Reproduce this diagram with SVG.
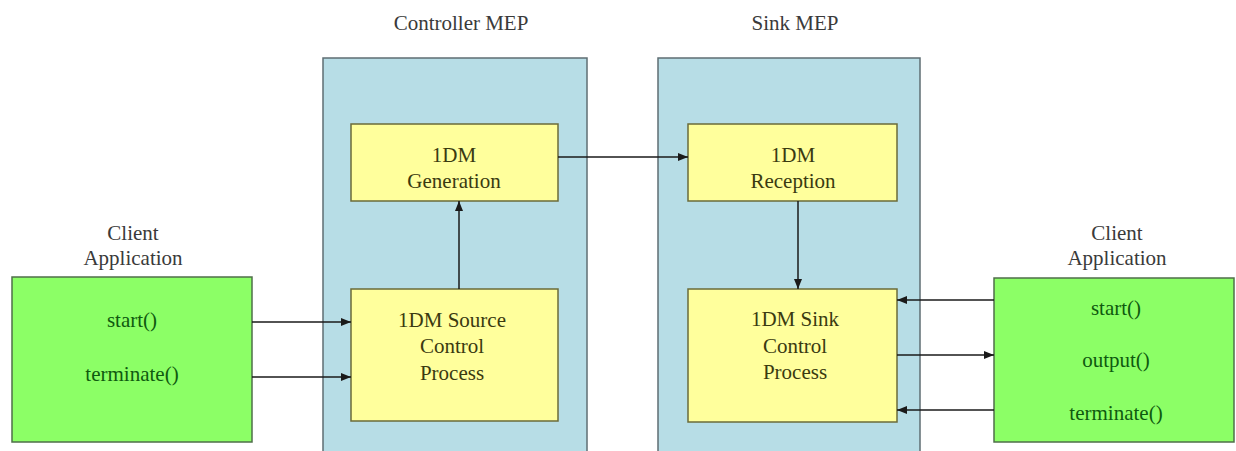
<svg xmlns="http://www.w3.org/2000/svg" width="1236" height="451" viewBox="0 0 1236 451">
<style>
text{font-family:'Liberation Serif','DejaVu Serif',serif;font-size:21px;text-anchor:middle}
.title{fill:#3a3a3a}
.cont{fill:#b7dde6;stroke:#5f6e73;stroke-width:1.5}
.proc{fill:#ffff9c;stroke:#6b6b3a;stroke-width:1.5}
.proc-t{fill:#3a3a10}
.client{fill:#8cff66;stroke:#4f6f4a;stroke-width:1.5}
.client-t{fill:#0f5a0f}
.conn{stroke:#1a1a1a;stroke-width:1.5;fill:none;marker-end:url(#ah)}
</style>
<defs>
<marker id="ah" markerUnits="userSpaceOnUse" markerWidth="10" markerHeight="10" viewBox="0 0 10 10" refX="10" refY="5" orient="auto">
<path d="M0,1 L10,5 L0,9 Z" fill="#1a1a1a"/>
</marker>
</defs>
<rect width="1236" height="451" fill="#ffffff"/>
<g font-family="Liberation Serif, DejaVu Serif, serif">
<g id="controller-mep">
<rect class="cont" x="323" y="58" width="264" height="410"/>
<text class="title" x="461" y="30">Controller MEP</text>
</g>
<g id="sink-mep">
<rect class="cont" x="658" y="58" width="262" height="410"/>
<text class="title" x="795" y="30">Sink MEP</text>
</g>
<g id="generation">
<rect class="proc" x="351" y="124" width="207" height="77"/>
<text class="proc-t" x="454" y="162">1DM</text>
<text class="proc-t" x="454" y="188">Generation</text>
</g>
<g id="source-control">
<rect class="proc" x="351" y="289" width="207" height="132"/>
<text class="proc-t" x="452" y="327">1DM Source</text>
<text class="proc-t" x="452" y="353">Control</text>
<text class="proc-t" x="452" y="380">Process</text>
</g>
<g id="reception">
<rect class="proc" x="688" y="124" width="209" height="77"/>
<text class="proc-t" x="793" y="162">1DM</text>
<text class="proc-t" x="793" y="188">Reception</text>
</g>
<g id="sink-control">
<rect class="proc" x="688" y="289" width="209" height="133"/>
<text class="proc-t" x="795" y="326">1DM Sink</text>
<text class="proc-t" x="795" y="353">Control</text>
<text class="proc-t" x="795" y="379">Process</text>
</g>
<g id="client-left">
<text class="title" x="133" y="240">Client</text>
<text class="title" x="133" y="265">Application</text>
<rect class="client" x="12" y="277" width="240" height="165"/>
<text class="client-t" x="132" y="327">start()</text>
<text class="client-t" x="132" y="381">terminate()</text>
</g>
<g id="client-right">
<text class="title" x="1117" y="240">Client</text>
<text class="title" x="1117" y="265">Application</text>
<rect class="client" x="994" y="278" width="240" height="164"/>
<text class="client-t" x="1116" y="315">start()</text>
<text class="client-t" x="1116" y="367">output()</text>
<text class="client-t" x="1116" y="420">terminate()</text>
</g>
</g>
<g id="connectors">
<line class="conn" x1="252" y1="322" x2="351" y2="322"/>
<line class="conn" x1="252" y1="377" x2="351" y2="377"/>
<line class="conn" x1="459" y1="289" x2="459" y2="201"/>
<line class="conn" x1="558" y1="157" x2="688" y2="157"/>
<line class="conn" x1="798" y1="201" x2="798" y2="289"/>
<line class="conn" x1="994" y1="300" x2="897" y2="300"/>
<line class="conn" x1="897" y1="355" x2="994" y2="355"/>
<line class="conn" x1="994" y1="410" x2="897" y2="410"/>
</g>
</svg>
